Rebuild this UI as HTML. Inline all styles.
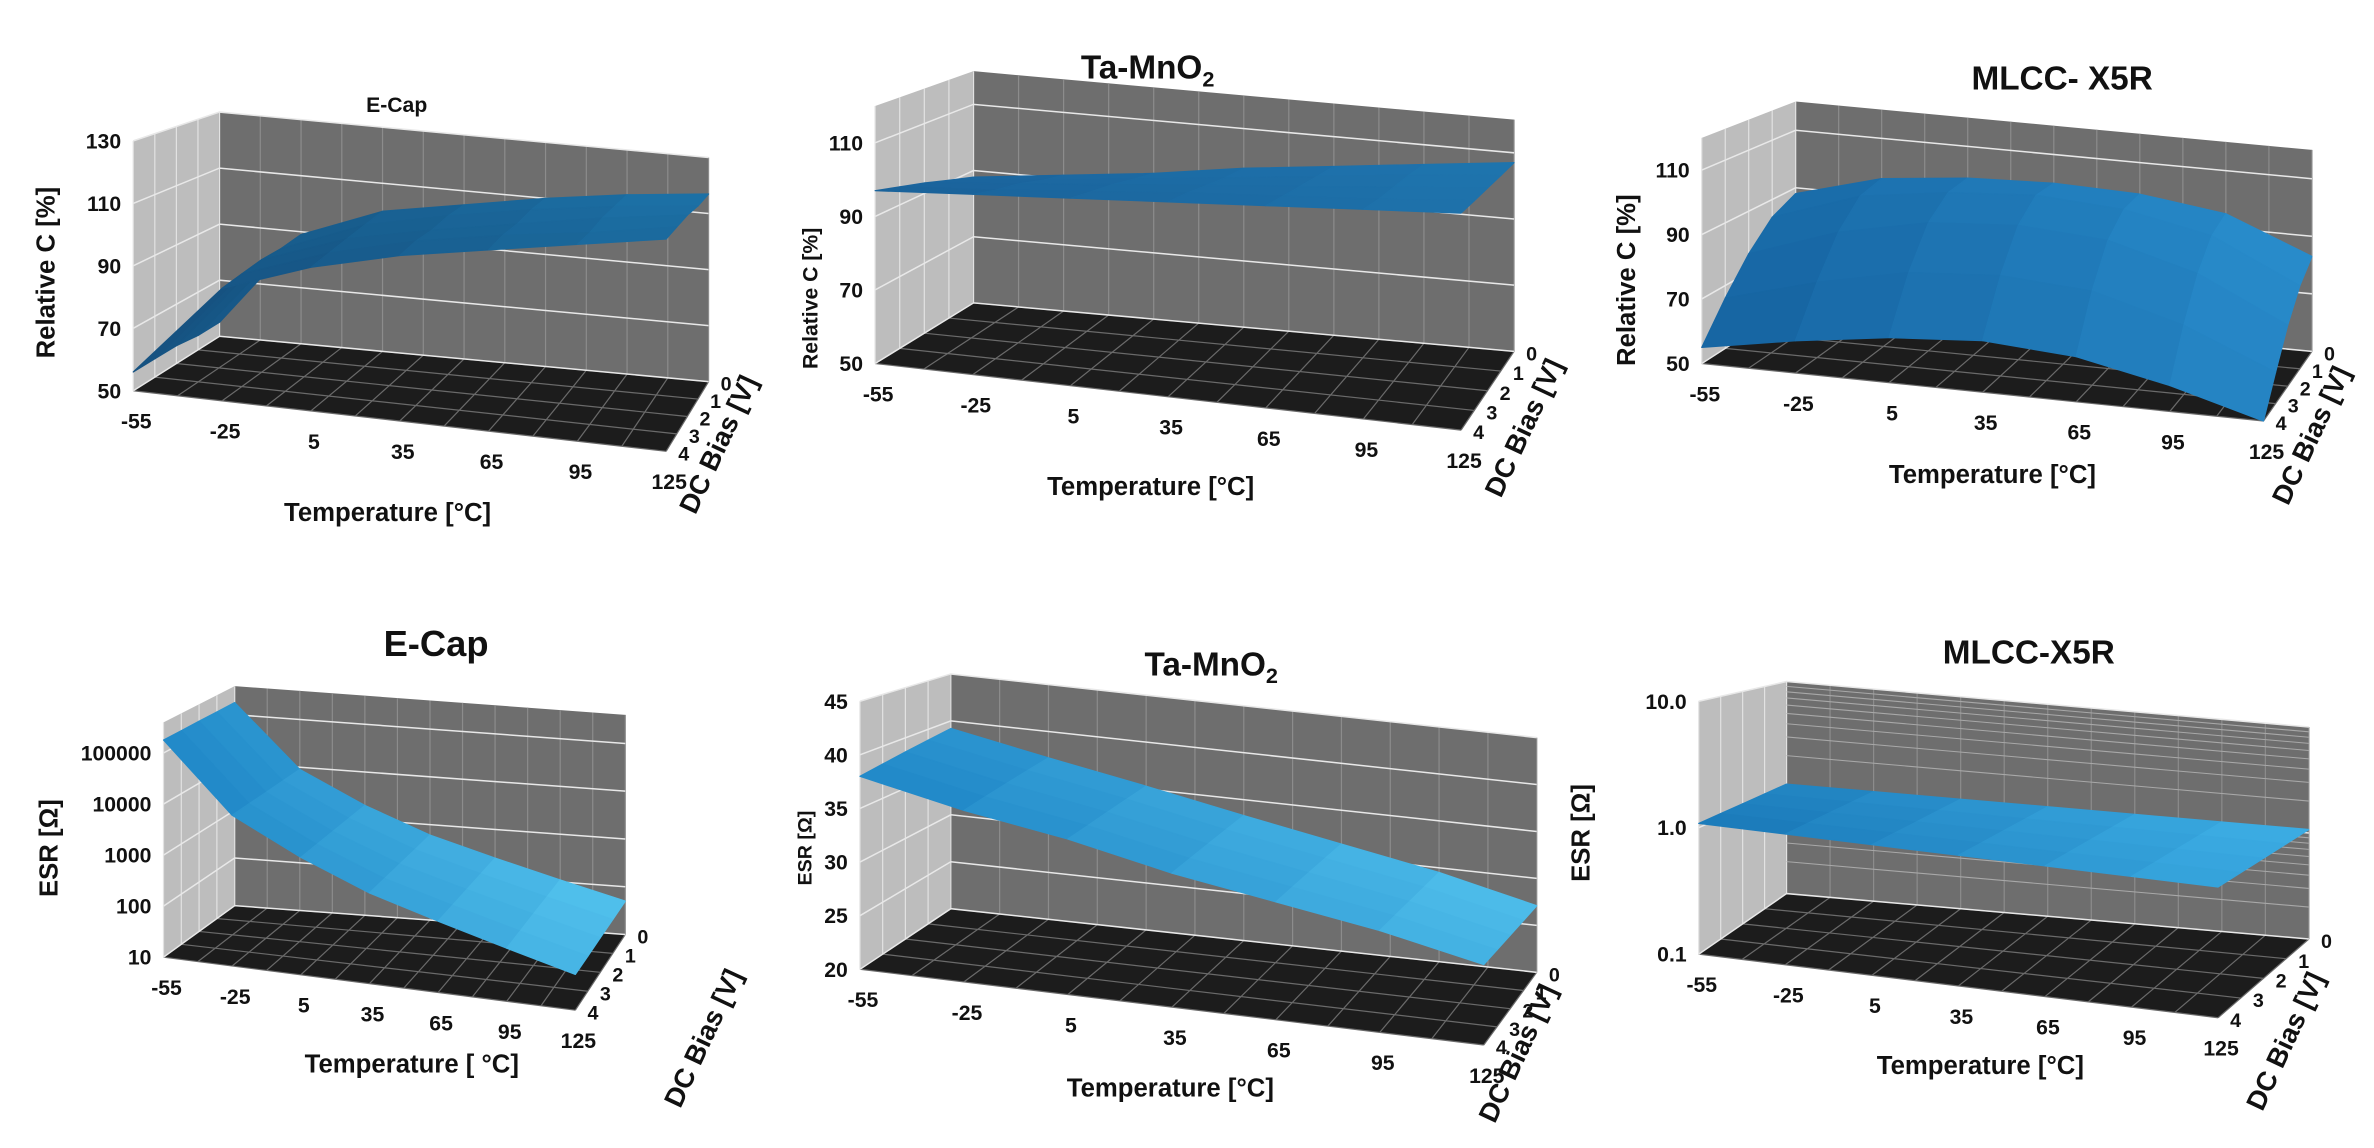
<!DOCTYPE html>
<html><head><meta charset="utf-8"><style>
html,body{margin:0;padding:0;background:#fff;}
svg{display:block;font-family:"Liberation Sans",Arial,sans-serif;font-weight:bold;}
</style></head><body>
<svg id="fig" xmlns="http://www.w3.org/2000/svg" width="2374" height="1148" viewBox="0 0 1568 758" preserveAspectRatio="none"></svg>
<script>
const temps = [-55, -25, 5, 35, 65, 95, 125];
const biasLabels = ['0', '1', '2', '3', '4'];
// rows: index 0 = bias 4 (front) ... index 4 = bias 0 (back)
const ecapC = [
  [56, 86, 96, 103, 108, 113, 118],
  [56, 87, 97, 104, 109, 113, 118],
  [56, 88, 98, 104, 109, 114, 118],
  [55, 88, 99, 105, 110, 114, 117],
  [55, 89, 100, 105, 110, 114, 117]
];
const taC = [
  [97, 99, 101, 103, 105, 107, 109],
  [95, 97, 99.5, 102, 104, 106, 108.5],
  [93, 95.5, 98, 100.5, 103, 105.5, 108],
  [90.5, 93, 96, 99, 102, 105, 107.5],
  [88, 91, 94, 98, 101, 104, 107]
];
const mlccC = [
  [55, 60, 64, 66, 64, 58, 50],
  [66, 74, 80, 82, 80, 72, 60],
  [76, 86, 92, 94, 92, 84, 70],
  [84, 94, 98, 100, 98, 92, 78],
  [88, 96, 99, 100, 99, 95, 83]
];
const ecapEsr = [
  [180000, 9000, 2000, 600, 250, 110, 50],
  [180000, 9000, 2000, 600, 250, 110, 50],
  [180000, 9000, 2000, 600, 250, 110, 50],
  [180000, 9000, 2000, 600, 250, 110, 50],
  [180000, 9000, 2000, 600, 250, 110, 50]
];
const taEsr = [
  [38, 36, 34.5, 32.5, 31, 29.5, 27.5],
  [38.3, 36.3, 34.7, 32.7, 31.1, 29.5, 27.4],
  [38.6, 36.6, 34.9, 32.9, 31.2, 29.5, 27.3],
  [38.9, 36.9, 35.1, 33.1, 31.3, 29.5, 27.2],
  [39.2, 37.2, 35.3, 33.3, 31.4, 29.5, 27.1]
];
const mlccEsr = [
  [1.08, 1.08, 1.08, 1.08, 1.08, 1.08, 1.08],
  [1.08, 1.08, 1.08, 1.08, 1.08, 1.08, 1.08],
  [1.08, 1.08, 1.08, 1.08, 1.08, 1.08, 1.08],
  [1.08, 1.08, 1.08, 1.08, 1.08, 1.08, 1.08],
  [1.08, 1.08, 1.08, 1.08, 1.08, 1.08, 1.08]
];
const ticksC1 = [50, 70, 90, 110, 130];
const ticksC2 = [50, 70, 90, 110];
const ticksC3 = [50, 70, 90, 110];
const ticksE1 = [10, 100, 1000, 10000, 100000];
const ticksE2 = [20, 25, 30, 35, 40, 45];
const ticksE3 = [0.1, 1.0, 10.0];
const tickTextE3 = ['0.1', '1.0', '10.0'];

const NS = 'http://www.w3.org/2000/svg';
const svg = document.getElementById('fig');
function mk(tag, attrs, parent) {
  const e = document.createElementNS(NS, tag);
  for (const k in attrs) e.setAttribute(k, attrs[k]);
  (parent || svg).appendChild(e);
  return e;
}
function pts(a) { return a.map(p => p[0].toFixed(1) + ',' + p[1].toFixed(1)).join(' '); }

const panels = [
  {id:'cap-ecap', title:'E-Cap', tsize:14, ty:74, tx:262, data:ecapC, ticks:ticksC1, zmin:50, zmax:130, log:false,
   FL:[88,258], FR:[440,298], BL:[145,222], BR:[468,252], hF:165, hB:148, ylab:'Relative C [%]', ylx:36, yly:180, ylsize:17,
   xl:'Temperature [°C]', xlx:256, xly:344, dbx:480, dby:296, c0:'#15507e', c1:'#1d74aa'},
  {id:'cap-ta', title:'Ta-MnO', sub:'2', tsize:22, ty:52, tx:758, data:taC, ticks:ticksC2, zmin:50, zmax:120, log:false,
   FL:[578,240], FR:[965,284], BL:[643,200], BR:[1000,232], hF:170, hB:153, ylab:'Relative C [%]', ylx:540, yly:197, ylsize:14,
   xl:'Temperature [°C]', xlx:760, xly:327, dbx:1012, dby:285, c0:'#1a629a', c1:'#1f76b0'},
  {id:'cap-mlcc', title:'MLCC- X5R', tsize:22, ty:59, tx:1362, data:mlccC, ticks:ticksC3, zmin:50, zmax:120, log:false,
   FL:[1124,240], FR:[1495,278], BL:[1186,200], BR:[1527,232], hF:149, hB:133, ylab:'Relative C [%]', ylx:1080, yly:185, ylsize:17,
   xl:'Temperature [°C]', xlx:1316, xly:319, dbx:1532, dby:290, c0:'#1663a0', c1:'#2a90d0'},
  {id:'esr-ecap', title:'E-Cap', tsize:24, ty:433, tx:288, data:ecapEsr, ticks:ticksE1, zmin:1, zmax:5.6, log:true,
   FL:[108,632], FR:[380,667], BL:[155,598], BR:[413,617], hF:155, hB:145, ylab:'ESR [Ω]', ylx:38, yly:560, ylsize:17,
   xl:'Temperature [ °C]', xlx:272, xly:708, dbx:470, dby:688, c0:'#1e86c6', c1:'#56c6f0'},
  {id:'esr-ta', title:'Ta-MnO', sub:'2', tsize:22, ty:446, tx:800, data:taEsr, ticks:ticksE2, zmin:20, zmax:45, log:false,
   FL:[568,640], FR:[980,690], BL:[628,600], BR:[1015,642], hF:177, hB:155, ylab:'ESR [Ω]', ylx:536, yly:560, ylsize:13,
   xl:'Temperature [°C]', xlx:773, xly:724, dbx:1008, dby:698, c0:'#1f86c6', c1:'#52c2ee'},
  {id:'esr-mlcc', title:'MLCC-X5R', tsize:22, ty:438, tx:1340, data:mlccEsr, ticks:ticksE3, ticktext:tickTextE3, zmin:-1, zmax:1, log:true, minor:true,
   FL:[1122,630], FR:[1465,672], BL:[1180,590], BR:[1525,620], hF:167, hB:140, ylab:'ESR [Ω]', ylx:1050, yly:550, ylsize:17,
   xl:'Temperature [°C]', xlx:1308, xly:709, dbx:1515, dby:690, c0:'#1a78b8', c1:'#3fb2e8'}
];

function lerp(a, b, t) { return [a[0] + (b[0] - a[0]) * t, a[1] + (b[1] - a[1]) * t]; }
function hexmix(a, b, t) {
  const pa = [1,3,5].map(i => parseInt(a.substr(i,2),16)), pb = [1,3,5].map(i => parseInt(b.substr(i,2),16));
  return 'rgb(' + pa.map((v,i) => Math.round(v + (pb[i]-v)*t)).join(',') + ')';
}

panels.forEach(P => {
  const g = mk('g', {});
  
  
  const zn = v => ((P.log ? Math.log10(v) : v) - P.zmin) / (P.zmax - P.zmin);
  const floor = (t, b) => lerp(lerp(P.FL, P.FR, t), lerp(P.BL, P.BR, t), b);
  const proj = (t, b, z) => { const f = floor(t, b); const h = P.hF + (P.hB - P.hF) * b; return [f[0], f[1] - z * h]; };
  const tN = v => (v - temps[0]) / (temps[temps.length-1] - temps[0]);
  const back = mk('polygon', {points: pts([proj(0,1,0), proj(1,1,0), proj(1,1,1), proj(0,1,1)]), fill:'#6e6e6e'}, g);
  
  
  const side = mk('polygon', {points: pts([proj(0,0,0), proj(0,1,0), proj(0,1,1), proj(0,0,1)]), fill:'#bdbdbd'}, g);
  
  
  const fl = mk('polygon', {points: pts([floor(0,0), floor(1,0), floor(1,1), floor(0,1)]), fill:'#1c1c1c'}, g);
  
  
  for (let i = 0; i <= 12; i++) {
    const t = i / 12;
    mk('line', {x1:proj(t,1,0)[0], y1:proj(t,1,0)[1], x2:proj(t,1,1)[0], y2:proj(t,1,1)[1], stroke:'#8c8c8c', 'stroke-width':0.8}, g);
    mk('line', {x1:floor(t,0)[0], y1:floor(t,0)[1], x2:floor(t,1)[0], y2:floor(t,1)[1], stroke:'#6a6a6a', 'stroke-width':0.8}, g);
  }
  for (let j = 0; j <= 4; j++) {
    const b = j / 4;
    mk('line', {x1:floor(0,b)[0], y1:floor(0,b)[1], x2:floor(1,b)[0], y2:floor(1,b)[1], stroke:'#6a6a6a', 'stroke-width':0.8}, g);
    mk('line', {x1:proj(0,b,0)[0], y1:proj(0,b,0)[1], x2:proj(0,b,1)[0], y2:proj(0,b,1)[1], stroke:'#e2e2e2', 'stroke-width':0.8}, g);
  }
  if (P.minor) {
    for (let d = P.zmin; d < P.zmax + 0.5; d++) for (let m = 2; m <= 9; m++) {
      const z = (d + Math.log10(m) - P.zmin) / (P.zmax - P.zmin);
      if (z > 1) continue;
      mk('line', {x1:proj(0,1,z)[0], y1:proj(0,1,z)[1], x2:proj(1,1,z)[0], y2:proj(1,1,z)[1], stroke:'#a8a8a8', 'stroke-width':0.7}, g);
    }
  }
  P.ticks.forEach((v, i) => {
    const z = zn(v);
    mk('polyline', {points: pts([proj(0,0,z), proj(0,1,z), proj(1,1,z)]), fill:'none', stroke:'#e8e8e8', 'stroke-width':1}, g);
    const p = proj(0,0,z);
    const tx = mk('text', {x:p[0]-8, y:p[1]+5, 'text-anchor':'end', 'font-size':14, fill:'#111'}, g);
    tx.textContent = P.ticktext ? P.ticktext[i] : String(v);
    
    
  });
  const rows = P.data.length;
  for (let r = rows - 2; r >= 0; r--) {
    for (let c = 0; c < temps.length - 1; c++) {
      const b0 = r / (rows - 1), b1 = (r + 1) / (rows - 1);
      const t0 = tN(temps[c]), t1 = tN(temps[c+1]);
      const q = [proj(t0,b0,zn(P.data[r][c])), proj(t1,b0,zn(P.data[r][c+1])), proj(t1,b1,zn(P.data[r+1][c+1])), proj(t0,b1,zn(P.data[r+1][c]))];
      const col = hexmix(P.c0, P.c1, (t0 + t1) / 2 * 0.8 + (b0 * 0.2));
      const poly = mk('polygon', {points: pts(q), fill: col, stroke: col, 'stroke-width': 0.8, 'stroke-linejoin':'round'}, g);
      
      
    }
  }
  temps.forEach(v => {
    const p = floor(tN(v), 0);
    const tx = mk('text', {x:p[0]+2, y:p[1]+25, 'text-anchor':'middle', 'font-size':14, fill:'#111'}, g);
    tx.textContent = String(v);
    
    
  });
  biasLabels.forEach((s, i) => {
    const p = floor(1, 1 - i / 4);
    const tx = mk('text', {x:p[0]+8, y:p[1]+6, 'font-size':13, fill:'#111'}, g);
    tx.textContent = s;
    
    
  });
  const ti = mk('text', {x:P.tx, y:P.ty, 'text-anchor':'middle', 'font-size':P.tsize, fill:'#111'}, g);
  ti.textContent = P.title;
  if (P.sub) { const s = mk('tspan', {'font-size':P.tsize*0.65, dy:5}, ti); s.textContent = P.sub; }
  
  
  const yl = mk('text', {x:0, y:0, transform:'translate(' + P.ylx + ',' + P.yly + ') rotate(-90)', 'text-anchor':'middle', 'font-size':P.ylsize, fill:'#111'}, g);
  yl.textContent = P.ylab;
  
  
  const xl = mk('text', {x:P.xlx, y:P.xly, 'text-anchor':'middle', 'font-size':17, fill:'#111'}, g);
  xl.textContent = P.xl;
  
  
  const db = mk('text', {x:0, y:0, transform:'translate(' + P.dbx + ',' + P.dby + ') rotate(-65)', 'text-anchor':'middle', 'font-size':18, fill:'#111'}, g);
  db.textContent = 'DC Bias [V]';
  
  
});
</script>
</body></html>
